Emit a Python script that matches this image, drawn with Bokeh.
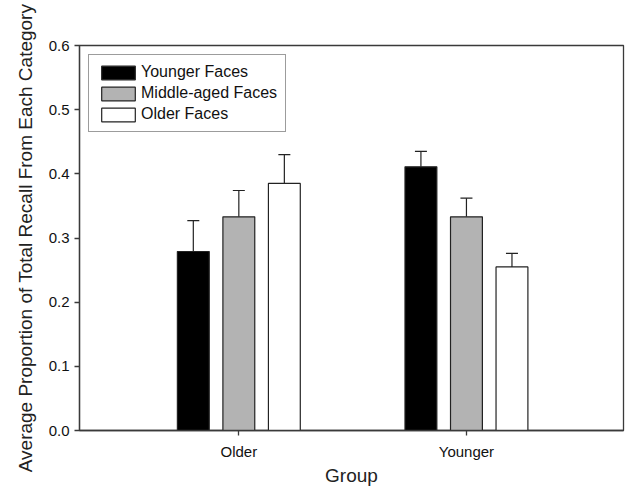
from bokeh.plotting import figure
from bokeh.models import (ColumnDataSource, Range1d, FixedTicker, PrintfTickFormatter,
                          Whisker, Legend, LegendItem)
from bokeh.embed import file_html
from bokeh.resources import INLINE

groups = ["Older", "Younger"]
face_types = ["Younger Faces", "Middle-aged Faces", "Older Faces"]
younger_faces = [0.279, 0.411]
middle_faces = [0.333, 0.333]
older_faces = [0.385, 0.255]
younger_se = [0.048, 0.024]
middle_se = [0.041, 0.029]
older_se = [0.045, 0.021]
y_ticks = [0.0, 0.1, 0.2, 0.3, 0.4, 0.5, 0.6]

series = [younger_faces, middle_faces, older_faces]
errors = [younger_se, middle_se, older_se]
fills = ["#000000", "#b3b3b3", "#ffffff"]

FONT = "Liberation Sans"
AX = "#3a3a3a"

p = figure(width=625, height=488, output_backend="svg", toolbar_location=None,
           x_range=Range1d(0.3, 2.69), y_range=Range1d(0, 0.6),
           min_border_left=79, min_border_right=2, min_border_top=45, min_border_bottom=52)
p.xgrid.visible = False
p.ygrid.visible = False
p.outline_line_color = AX
p.outline_line_width = 1.3

items = []
gx = [i + 1 for i in range(len(groups))]
for j, (vals, se, col) in enumerate(zip(series, errors, fills)):
    xs = [g + (j - 1) * 0.2 for g in gx]
    src = ColumnDataSource(dict(x=xs, top=vals, up=[v + e for v, e in zip(vals, se)]))
    r = p.vbar(x="x", top="top", width=0.14, source=src, fill_color=col,
               line_color="#222222", line_width=1.2)
    w = Whisker(base="x", lower="top", upper="up", source=src, dimension="height",
                line_color="#222222", line_width=1.2)
    w.lower_head = None
    w.upper_head.size = 12
    w.upper_head.line_color = "#222222"
    w.upper_head.line_width = 1.2
    p.add_layout(w)
    items.append(LegendItem(label=face_types[j], renderers=[r]))

legend = Legend(items=items, location="top_left")
legend.glyph_width = 42
legend.glyph_height = 17
legend.spacing = 3
legend.padding = 8
legend.margin = 9
legend.label_standoff = 2
legend.label_text_font = FONT
legend.label_text_font_size = "16px"
legend.label_text_color = "#111111"
legend.border_line_color = AX
legend.border_line_width = 1.3
legend.background_fill_alpha = 1
p.add_layout(legend)

p.xaxis.ticker = FixedTicker(ticks=gx)
p.xaxis.major_label_overrides = {g: name for g, name in zip(gx, groups)}
p.xaxis.minor_tick_line_color = None
p.xaxis.axis_label = "Group"
p.yaxis.ticker = FixedTicker(ticks=y_ticks)
p.yaxis.formatter = PrintfTickFormatter(format="%.1f")
p.yaxis.minor_tick_line_color = None
p.yaxis.axis_label = "Average Proportion of Total Recall From Each Category"

for ax in (p.xaxis, p.yaxis):
    ax.axis_line_color = AX
    ax.axis_line_width = 1.3
    ax.major_tick_line_color = AX
    ax.major_tick_line_width = 1.3
    ax.major_tick_out = 5
    ax.major_tick_in = 0
    ax.major_label_text_font = FONT
    ax.major_label_text_font_size = "15px"
    ax.major_label_text_color = "#111111"
    ax.axis_label_text_font = FONT
    ax.axis_label_text_font_size = "19px"
    ax.axis_label_text_font_style = "normal"
    ax.axis_label_text_color = "#222222"
p.xaxis.major_label_standoff = 7
p.xaxis.axis_label_standoff = 2
p.yaxis.major_label_standoff = 5
p.yaxis.axis_label_standoff = 10

open("out.html", "w").write(file_html(p, INLINE))
